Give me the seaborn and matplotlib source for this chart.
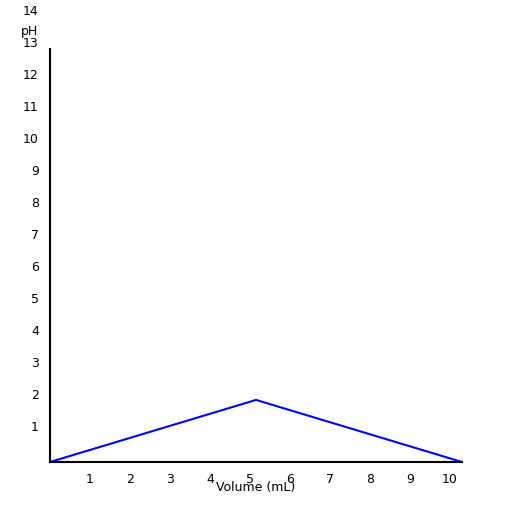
import matplotlib
matplotlib.use("Agg")
import matplotlib.pyplot as plt
import matplotlib.transforms as mtransforms
import seaborn as sns
import pandas as pd

volume = [0.0, 5.15, 10.3]
ph = [0.0, 1.94, 0.0]
xticks = [1, 2, 3, 4, 5, 6, 7, 8, 9, 10]
yticks = list(range(1, 15))

sns.set_style("white")
plt.rcParams["text.color"] = "black"
plt.rcParams["xtick.color"] = "black"
plt.rcParams["ytick.color"] = "black"
plt.rcParams["axes.labelcolor"] = "black"
fig = plt.figure(figsize=(5.12, 5.12), dpi=100)
ax = fig.add_axes([50/512, 50/512, 412/512, 448/512])
df = pd.DataFrame({"Volume (mL)": volume, "pH": ph})
sns.lineplot(data=df, x="Volume (mL)", y="pH", color="blue", linewidth=1.5, ax=ax)
ax.set_xlim(0, 10.3)
ax.set_ylim(0, 14)
ax.set_xticks(xticks)
ax.set_yticks(yticks)
ax.tick_params(length=0, labelsize=9, pad=8)
off = mtransforms.ScaledTranslation(0, 4/100, fig.dpi_scale_trans)
for lbl in ax.get_yticklabels():
    lbl.set_transform(lbl.get_transform() + off)
for s in ["top", "right"]:
    ax.spines[s].set_visible(False)
for s in ["left", "bottom"]:
    ax.spines[s].set_color("black")
    ax.spines[s].set_linewidth(1.5)
ax.spines["left"].set_bounds(0, 12.9)
ax.set_xlabel("Volume (mL)", fontsize=9, labelpad=-4)
ax.set_ylabel("")
fig.text(30/512, 1 - 31/512, "pH", fontsize=9, ha="center", va="center")
fig.savefig("out.png", dpi=100)
